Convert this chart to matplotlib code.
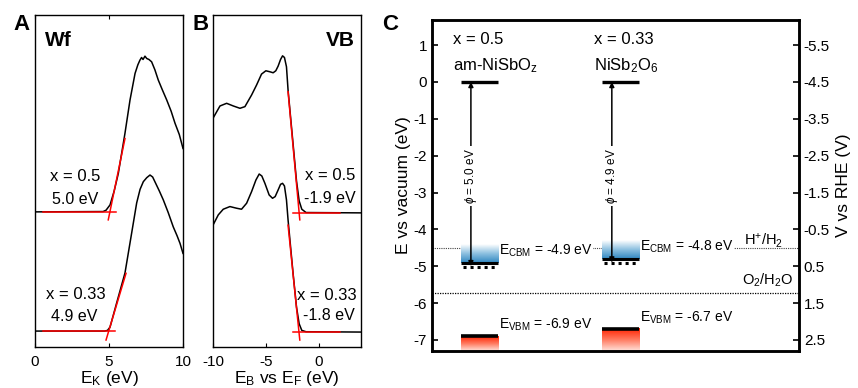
import matplotlib
matplotlib.use("Agg")
import matplotlib.pyplot as plt
import numpy as np
from matplotlib.colors import LinearSegmentedColormap

plt.rcParams["font.family"] = ["Liberation Sans", "DejaVu Sans"]
plt.rcParams["mathtext.fontset"] = "custom"
plt.rcParams["mathtext.rm"] = "Liberation Sans"
plt.rcParams["mathtext.it"] = "Liberation Sans:italic"
plt.rcParams["axes.unicode_minus"] = False

# --- panel A: secondary electron cutoff (work function) ---
wf_x_05 = [0, 4.6, 4.8, 5.07, 5.35, 5.63, 6.08, 6.42, 6.76, 6.95, 7.09, 7.2, 7.3, 7.43,
           7.55, 7.7, 7.88, 8.1, 8.33, 8.6, 8.9, 9.2, 9.46, 9.75, 10]
wf_y_05 = [0.407, 0.408, 0.412, 0.428, 0.47, 0.523, 0.644, 0.744, 0.824, 0.85, 0.864, 0.872,
           0.866, 0.876, 0.869, 0.866, 0.859, 0.835, 0.804, 0.775, 0.744, 0.71, 0.674, 0.64, 0.598]
wf_x_033 = [0, 4.7, 4.9, 5.07, 5.5, 6.08, 6.53, 6.87, 7.1, 7.32, 7.55, 7.77, 7.95, 8.1,
            8.4, 8.67, 9.0, 9.34, 9.6, 9.8, 10]
wf_y_033 = [0.048, 0.048, 0.05, 0.06, 0.13, 0.223, 0.343, 0.434, 0.475, 0.498, 0.51, 0.518,
            0.512, 0.498, 0.47, 0.443, 0.405, 0.362, 0.335, 0.312, 0.282]
wf_fit_05 = ([4.95, 6.08], [0.383, 0.628])
wf_base_05 = ([0.55, 5.5], [0.407, 0.407])
wf_fit_033 = ([4.8, 6.15], [0.021, 0.222])
wf_base_033 = ([0.55, 5.4], [0.048, 0.048])

# --- panel B: valence band ---
vb_x_05 = [-10, -9.34, -8.71, -8.08, -7.45, -6.98, -6.35, -5.88, -5.41, -5.0, -4.62, -4.31,
           -4.06, -3.84, -3.61, -3.42, -3.24, -3.05, -2.9, -2.42, -2.1, -1.85, -1.6, -1.2, 4]
vb_y_05 = [0.689, 0.726, 0.734, 0.726, 0.719, 0.724, 0.759, 0.789, 0.822, 0.832, 0.829, 0.826,
           0.832, 0.846, 0.866, 0.877, 0.872, 0.844, 0.774, 0.61, 0.5, 0.44, 0.415, 0.405, 0.404]
vb_x_033 = [-10, -9.5, -9.03, -8.4, -7.77, -7.3, -6.82, -6.35, -5.94, -5.63, -5.38, -5.09,
            -4.69, -4.37, -4.12, -3.84, -3.61, -3.42, -3.24, -3.05, -2.9, -2.42, -2.1, -1.85,
            -1.6, -1.2, 4]
vb_y_033 = [0.367, 0.398, 0.415, 0.423, 0.418, 0.415, 0.433, 0.468, 0.503, 0.521, 0.515, 0.493,
            0.458, 0.448, 0.453, 0.473, 0.49, 0.493, 0.485, 0.443, 0.383, 0.22, 0.12, 0.07,
            0.05, 0.046, 0.045]
vb_fit_05 = ([-2.9, -1.79], [0.769, 0.383])
vb_base_05 = ([-2.42, 1.98], [0.404, 0.404])
vb_fit_033 = ([-2.9, -1.79], [0.367, 0.021])
vb_base_033 = ([-2.42, 1.98], [0.045, 0.045])

# --- panel C: band diagram ---
labels_x = ["x = 0.5", "x = 0.33"]
labels_mat = [r"am-NiSbO$_{\rm z}$", r"NiSb$_2$O$_6$"]
bar_left = [0.79, 4.63]
bar_width = 1.02
e_cbm = [-4.9, -4.8]
e_vbm = [-6.9, -6.7]
e_fermi = [-5.0, -4.9]
phi = ["5.0", "4.9"]
rhe_ticks = [-5.5, -4.5, -3.5, -2.5, -1.5, -0.5, 0.5, 1.5, 2.5]
e_h2 = -4.5
e_o2 = -5.73

fig = plt.figure(figsize=(8.58, 3.88), dpi=100)
axA = fig.add_axes([35 / 858, 41 / 388, 148 / 858, 332 / 388])
axB = fig.add_axes([213 / 858, 41 / 388, 148 / 858, 332 / 388])
axC = fig.add_axes([432 / 858, 37 / 388, 367 / 858, 331 / 388])

# panel A
axA.plot(wf_x_05, wf_y_05, color="k", lw=1.1)
axA.plot(wf_x_033, wf_y_033, color="k", lw=1.1)
for xs, ys in [wf_fit_05, wf_base_05, wf_fit_033, wf_base_033]:
    axA.plot(xs, ys, color="red", lw=1.1)
axA.set_xlim(0, 10)
axA.set_ylim(0, 1)
axA.set_yticks([])
axA.set_xticks([0, 5, 10])
axA.tick_params(axis="x", direction="in", length=3, labelsize=11, top=True, pad=6)
axA.set_xlabel(r"E$_{\rm K}$ (eV)", fontsize=12.5, labelpad=0)
axA.text(2.7, 0.515, "x = 0.5", fontsize=12, ha="center", va="center")
axA.text(2.7, 0.443, "5.0 eV", fontsize=11.5, ha="center", va="center")
axA.text(2.75, 0.157, "x = 0.33", fontsize=12, ha="center", va="center")
axA.text(2.65, 0.093, "4.9 eV", fontsize=11.5, ha="center", va="center")
axA.text(0.068, 0.922, "Wf", fontsize=15, fontweight="bold", transform=axA.transAxes,
         ha="left", va="center")

# panel B
axB.plot(vb_x_05, vb_y_05, color="k", lw=1.1)
axB.plot(vb_x_033, vb_y_033, color="k", lw=1.1)
for xs, ys in [vb_fit_05, vb_base_05, vb_fit_033, vb_base_033]:
    axB.plot(xs, ys, color="red", lw=1.1)
axB.set_xlim(-10, 4)
axB.set_ylim(0, 1)
axB.set_yticks([])
axB.set_xticks([-10, -5, 0])
axB.tick_params(axis="x", direction="in", length=3, labelsize=11, pad=6)
axB.set_xlabel(r"E$_{\rm B}$ vs E$_{\rm F}$ (eV)", fontsize=12.5, labelpad=0)
axB.text(3.45, 0.518, "x = 0.5", fontsize=12, ha="right", va="center")
axB.text(3.45, 0.446, "-1.9 eV", fontsize=11.5, ha="right", va="center")
axB.text(3.55, 0.154, "x = 0.33", fontsize=12, ha="right", va="center")
axB.text(3.45, 0.096, "-1.8 eV", fontsize=11.5, ha="right", va="center")
axB.text(0.96, 0.922, "VB", fontsize=15, fontweight="bold", transform=axB.transAxes,
         ha="right", va="center")

for ax in (axA, axB):
    for s in ax.spines.values():
        s.set_linewidth(1.0)

# panel C
axC.set_xlim(0, 10)
axC.set_ylim(-7.3, 1.68)
axC.set_xticks([])
axC.set_yticks(range(-7, 2))
axC.tick_params(axis="y", direction="in", length=4, width=1.2, labelsize=11)
axC.set_ylabel("E vs vacuum (eV)", fontsize=12.5, labelpad=2)
for s in axC.spines.values():
    s.set_linewidth(1.8)

axC.axhline(e_h2, color="#444444", lw=0.8, ls=(0, (1, 1)), zorder=1)
axC.axhline(e_o2, color="k", lw=0.9, ls=(0, (1, 1)), zorder=1)
axC.text(9.56, e_h2 + 0.19, r"H$^{+}$/H$_2$", fontsize=10.5, ha="right", va="center")
axC.text(9.85, e_o2 + 0.36, r"O$_2$/H$_2$O", fontsize=10.5, ha="right", va="center")

blue = LinearSegmentedColormap.from_list("cb", ["#2f86c0", "#8cc0e0", "#ffffff"])
red = LinearSegmentedColormap.from_list("vb", ["#ff2200", "#ff7a60", "#ffe2da"])
grad = np.linspace(0, 1, 100).reshape(-1, 1)

for i in range(2):
    x0 = bar_left[i]
    x1 = x0 + bar_width
    # conduction band gradient (fades upward)
    axC.imshow(grad, cmap=blue, aspect="auto", origin="lower",
               extent=[x0, x1, e_cbm[i], e_cbm[i] + 0.5], zorder=2)
    # valence band gradient (fades downward)
    axC.imshow(grad, cmap=red, aspect="auto", origin="upper",
               extent=[x0, x1, -7.3, e_vbm[i]], zorder=2)
    axC.plot([x0, x1], [0, 0], color="k", lw=2.4, solid_capstyle="butt", zorder=3)
    axC.plot([x0, x1], [e_cbm[i], e_cbm[i]], color="k", lw=2.2, solid_capstyle="butt", zorder=3)
    axC.plot([x0, x1], [e_vbm[i], e_vbm[i]], color="k", lw=2.6, solid_capstyle="butt", zorder=3)
    axC.plot([x0 + 0.05, x1], [e_fermi[i] - 0.02, e_fermi[i] - 0.02], color="k", lw=2.2,
             ls=(0, (1, 1.3)), zorder=3)
    xa = x0 + 0.27
    axC.annotate("", xy=(xa, 0), xytext=(xa, e_fermi[i]),
                 arrowprops=dict(arrowstyle="<|-|>", color="k", lw=1.1, shrinkA=0, shrinkB=0,
                                 mutation_scale=7), zorder=4)
    axC.text(xa, -2.55, r"$\phi$ = " + phi[i] + " eV", rotation=90, fontsize=8.5,
             ha="center", va="center", zorder=5,
             bbox=dict(fc="white", ec="none", pad=1.5))
    axC.text(x0 - 0.22, 1.14, labels_x[i], fontsize=12, ha="left", va="center")
    axC.text(x0 - 0.22, 0.44, labels_mat[i], fontsize=12, ha="left", va="center")
    axC.text(x1 + 0.02, e_cbm[i] + 0.32, r"E$_{\rm CBM}$ = " + f"{e_cbm[i]:.1f} eV",
             fontsize=10, ha="left", va="center", zorder=3,
             bbox=dict(fc="white", ec="none", pad=0.3))
    axC.text(x1 + 0.02, e_vbm[i] + 0.3, r"E$_{\rm VBM}$ = " + f"{e_vbm[i]:.1f} eV",
             fontsize=10, ha="left", va="center", zorder=3)

axR = axC.twinx()
axR.set_ylim(-(-7.3) - 4.5, -1.68 - 4.5)
axR.set_yticks(rhe_ticks)
axR.set_yticklabels([f"{v:.1f}" for v in rhe_ticks])
axR.tick_params(axis="y", direction="in", length=4, width=1.2, labelsize=11)
axR.set_ylabel("V vs RHE (V)", fontsize=12.5, labelpad=4)
for s in axR.spines.values():
    s.set_linewidth(1.8)

fig.text(13 / 858, 1 - 24 / 388, "A", fontsize=16, fontweight="bold", ha="left", va="center")
fig.text(192 / 858, 1 - 24 / 388, "B", fontsize=16, fontweight="bold", ha="left", va="center")
fig.text(382 / 858, 1 - 25 / 388, "C", fontsize=16, fontweight="bold", ha="left", va="center")

fig.savefig("out.png", dpi=100)
